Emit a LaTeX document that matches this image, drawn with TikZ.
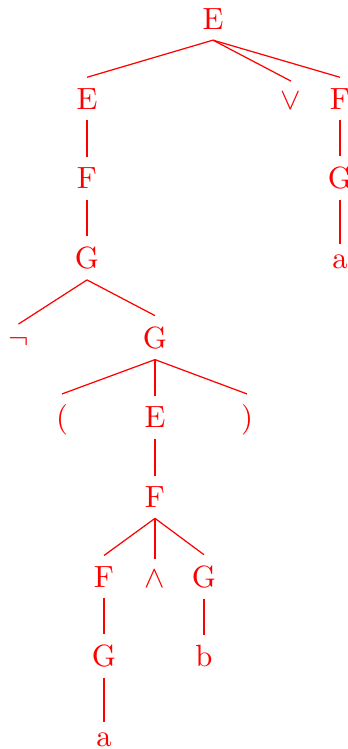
\documentclass[tikz,border=0pt]{standalone}
\begin{document}
\begin{tikzpicture}[x=0.3257pt,y=-0.3257pt,
  tn/.style={text=red, anchor=base, inner sep=3.33pt},
  edge/.style={draw=red, line width=0.4pt}]
\useasboundingbox (0,0) rectangle (347,749);
% level 1
\node[tn] (e1) at (213,29.3) {E};
% level 2
\node[tn] (e2) at (87,109.0) {E};
\node[tn] (or) at (291,109.0) {$\vee$};
\node[tn] (f2) at (340,109.0) {F};
% level 3
\node[tn] (f3) at (87,188.7) {F};
\node[tn] (g3) at (340,188.7) {G};
% level 4
\node[tn] (g4) at (87,268.4) {G};
\node[tn] (a4) at (340,268.4) {a};
% level 5
\node[tn] (neg) at (18.5,348.1) {$\neg$};
\node[tn] (g5) at (155,348.1) {G};
% level 6
\node[tn] (lp) at (62,427.8) {(};
\node[tn] (e6) at (155,427.8) {E};
\node[tn] (rp) at (247,427.8) {)};
% level 7
\node[tn] (f7) at (155,507.5) {F};
% level 8
\node[tn] (f8) at (104,587.2) {F};
\node[tn] (and) at (155,587.2) {$\wedge$};
\node[tn] (g8) at (204,587.2) {G};
% level 9
\node[tn] (g9) at (104,666.9) {G};
\node[tn] (b9) at (204,666.9) {b};
% level 10
\node[tn] (a10) at (104,746.6) {a};
% edges
\draw[edge] (e1.south) -- (e2.north);
\draw[edge] (e1.south) -- (or.north);
\draw[edge] (e1.south) -- (f2.north);
\draw[edge] (e2.south) -- (f3.north);
\draw[edge] (f2.south) -- (g3.north);
\draw[edge] (f3.south) -- (g4.north);
\draw[edge] (g3.south) -- (a4.north);
\draw[edge] (g4.south) -- (neg.north);
\draw[edge] (g4.south) -- (g5.north);
\draw[edge] (g5.south) -- (lp.north);
\draw[edge] (g5.south) -- (e6.north);
\draw[edge] (g5.south) -- (rp.north);
\draw[edge] (e6.south) -- (f7.north);
\draw[edge] (f7.south) -- (f8.north);
\draw[edge] (f7.south) -- (and.north);
\draw[edge] (f7.south) -- (g8.north);
\draw[edge] (f8.south) -- (g9.north);
\draw[edge] (g8.south) -- (b9.north);
\draw[edge] (g9.south) -- (a10.north);
\end{tikzpicture}
\end{document}
